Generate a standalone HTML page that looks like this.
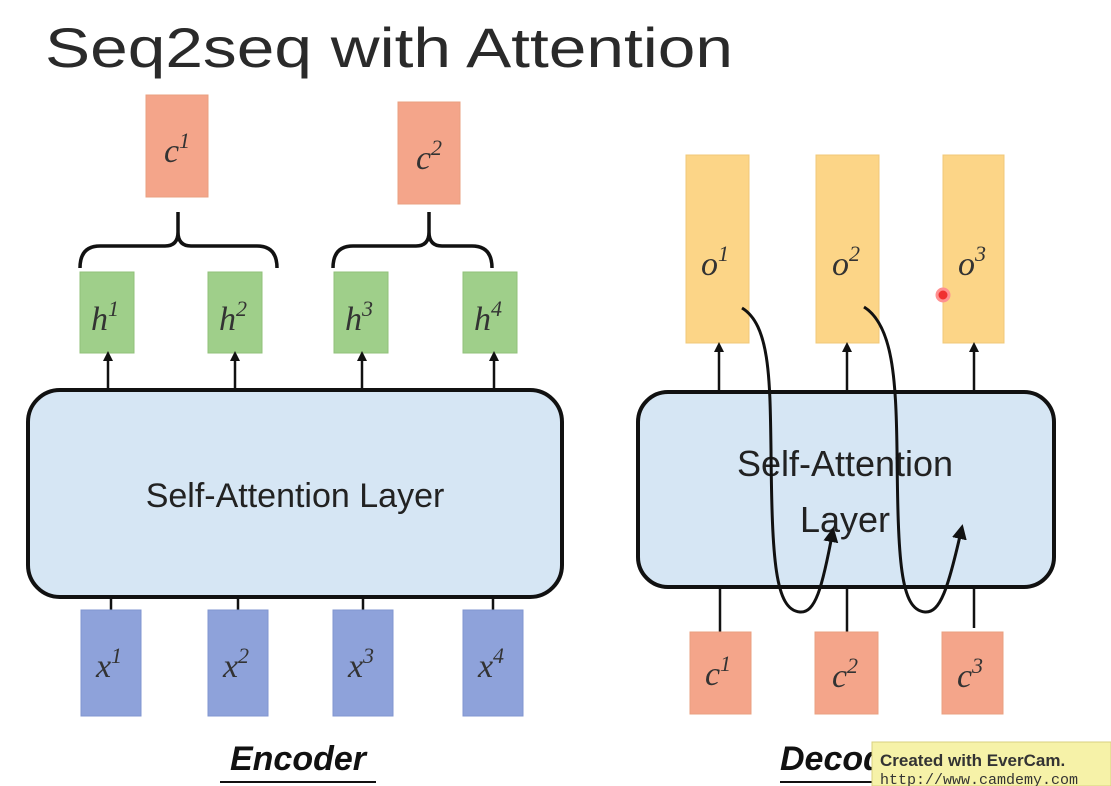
<!DOCTYPE html>
<html><head><meta charset="utf-8"><style>
html,body{margin:0;padding:0;background:#fff;}
svg{display:block;}
.m{font-family:"Liberation Serif",serif;font-style:italic;fill:#333;}
</style></head><body>
<svg width="1111" height="786" viewBox="0 0 1111 786" xmlns="http://www.w3.org/2000/svg">
<defs>
<marker id="a" viewBox="0 0 10 10" refX="5" refY="5" markerWidth="4" markerHeight="4" orient="auto"><path d="M0,0L10,5L0,10z" fill="#111"/></marker>
<marker id="b" viewBox="0 0 10 10" refX="8" refY="5" markerWidth="5" markerHeight="5" orient="auto"><path d="M0,0L10,5L0,10z" fill="#111"/></marker>
</defs>
<text x="45" y="67" font-family="Liberation Sans,sans-serif" font-size="56" fill="#2a2a2a" textLength="688" lengthAdjust="spacingAndGlyphs">Seq2seq with Attention</text>

<!-- encoder -->
<rect x="146" y="95" width="62" height="102" fill="#f4a58a" stroke="#eaa080"/>
<text x="177" y="162" class="m" font-size="34" text-anchor="middle">c<tspan font-size="22" dy="-14">1</tspan></text>
<rect x="398" y="102" width="62" height="102" fill="#f4a58a" stroke="#eaa080"/>
<text x="429" y="169" class="m" font-size="34" text-anchor="middle">c<tspan font-size="22" dy="-14">2</tspan></text>
<path d="M80,268 Q80,246 100,246 L165,246 Q178,246 178,232 L178,212 M178,232 Q178,246 191,246 L257,246 Q277,246 277,268" fill="none" stroke="#111" stroke-width="3.5"/>
<path d="M333,268 Q333,246 353,246 L416,246 Q429,246 429,232 L429,212 M429,232 Q429,246 442,246 L472,246 Q492,246 492,268" fill="none" stroke="#111" stroke-width="3.5"/>
<g fill="#9fcf8a" stroke="#90c07a">
<rect x="80" y="272" width="54" height="81"/><rect x="208" y="272" width="54" height="81"/>
<rect x="334" y="272" width="54" height="81"/><rect x="463" y="272" width="54" height="81"/>
</g>
<g class="m" font-size="34" text-anchor="middle">
<text x="105" y="330">h<tspan font-size="22" dy="-14">1</tspan></text>
<text x="233" y="330">h<tspan font-size="22" dy="-14">2</tspan></text>
<text x="359" y="330">h<tspan font-size="22" dy="-14">3</tspan></text>
<text x="488" y="330">h<tspan font-size="22" dy="-14">4</tspan></text>
</g>
<g stroke="#111" stroke-width="2.5" marker-end="url(#a)">
<line x1="108" y1="390" x2="108" y2="356"/><line x1="235" y1="390" x2="235" y2="356"/>
<line x1="362" y1="390" x2="362" y2="356"/><line x1="494" y1="390" x2="494" y2="356"/>
</g>
<rect x="28" y="390" width="534" height="207" rx="32" fill="#d6e6f4" stroke="#111" stroke-width="4"/>
<text x="295" y="507" font-family="Liberation Sans,sans-serif" font-size="34" fill="#222" text-anchor="middle">Self-Attention Layer</text>
<g stroke="#111" stroke-width="2.5">
<line x1="111" y1="597" x2="111" y2="610"/><line x1="238" y1="597" x2="238" y2="610"/>
<line x1="363" y1="597" x2="363" y2="610"/><line x1="493" y1="597" x2="493" y2="610"/>
</g>
<g fill="#8ea2da" stroke="#8096d0">
<rect x="81" y="610" width="60" height="106"/><rect x="208" y="610" width="60" height="106"/>
<rect x="333" y="610" width="60" height="106"/><rect x="463" y="610" width="60" height="106"/>
</g>
<g class="m" font-size="34" text-anchor="middle">
<text x="109" y="677">x<tspan font-size="22" dy="-14">1</tspan></text>
<text x="236" y="677">x<tspan font-size="22" dy="-14">2</tspan></text>
<text x="361" y="677">x<tspan font-size="22" dy="-14">3</tspan></text>
<text x="491" y="677">x<tspan font-size="22" dy="-14">4</tspan></text>
</g>
<text x="298" y="770" font-family="Liberation Sans,sans-serif" font-size="34" font-weight="bold" font-style="italic" fill="#111" text-anchor="middle">Encoder</text>
<line x1="220" y1="782" x2="376" y2="782" stroke="#111" stroke-width="2"/>

<!-- decoder -->
<g fill="#fcd587" stroke="#f0c878">
<rect x="686" y="155" width="63" height="188"/><rect x="816" y="155" width="63" height="188"/><rect x="943" y="155" width="61" height="188"/>
</g>
<g class="m" font-size="34" text-anchor="middle">
<text x="715" y="275">o<tspan font-size="22" dy="-14">1</tspan></text>
<text x="846" y="275">o<tspan font-size="22" dy="-14">2</tspan></text>
<text x="972" y="275">o<tspan font-size="22" dy="-14">3</tspan></text>
</g>
<circle cx="943" cy="295" r="6" fill="#f03030" stroke="#ff9090" stroke-width="3"/>
<g stroke="#111" stroke-width="2.5" marker-end="url(#a)">
<line x1="719" y1="392" x2="719" y2="347"/><line x1="847" y1="392" x2="847" y2="347"/><line x1="974" y1="392" x2="974" y2="347"/>
</g>
<rect x="638" y="392" width="416" height="195" rx="30" fill="#d6e6f4" stroke="#111" stroke-width="4"/>
<text x="845" y="476" font-family="Liberation Sans,sans-serif" font-size="36" fill="#222" text-anchor="middle">Self-Attention</text>
<text x="845" y="532" font-family="Liberation Sans,sans-serif" font-size="36" fill="#222" text-anchor="middle">Layer</text>
<g stroke="#111" stroke-width="2.5">
<line x1="720" y1="587" x2="720" y2="632"/><line x1="847" y1="587" x2="847" y2="632"/><line x1="974" y1="587" x2="974" y2="628"/>
</g>
<g fill="#f4a58a" stroke="#eaa080">
<rect x="690" y="632" width="61" height="82"/><rect x="815" y="632" width="63" height="82"/><rect x="942" y="632" width="61" height="82"/>
</g>
<g class="m" font-size="34" text-anchor="middle">
<text x="718" y="685">c<tspan font-size="22" dy="-14">1</tspan></text>
<text x="845" y="687">c<tspan font-size="22" dy="-14">2</tspan></text>
<text x="970" y="687">c<tspan font-size="22" dy="-14">3</tspan></text>
</g>
<g fill="none" stroke="#111" stroke-width="3" marker-end="url(#b)">
<path d="M742,308 C770,325 770,380 771,450 C772,560 775,610 800,612 C815,613 822,590 833,530"/>
<path d="M864,307 C893,325 896,380 897,450 C898,560 900,610 925,612 C940,613 948,590 962,527"/>
</g>
<text x="780" y="770" font-family="Liberation Sans,sans-serif" font-size="34" font-weight="bold" font-style="italic" fill="#111">Decoder</text>
<line x1="780" y1="782" x2="930" y2="782" stroke="#111" stroke-width="2"/>
<rect x="872" y="742" width="239" height="44" fill="#f6f2a8" stroke="#d8d080"/>
<text x="880" y="766" font-family="Liberation Sans,sans-serif" font-size="17" font-weight="bold" fill="#333">Created with EverCam.</text>
<text x="880" y="784" font-family="Liberation Mono,monospace" font-size="15" fill="#333">http://www.camdemy.com</text>
</svg>
</body></html>
